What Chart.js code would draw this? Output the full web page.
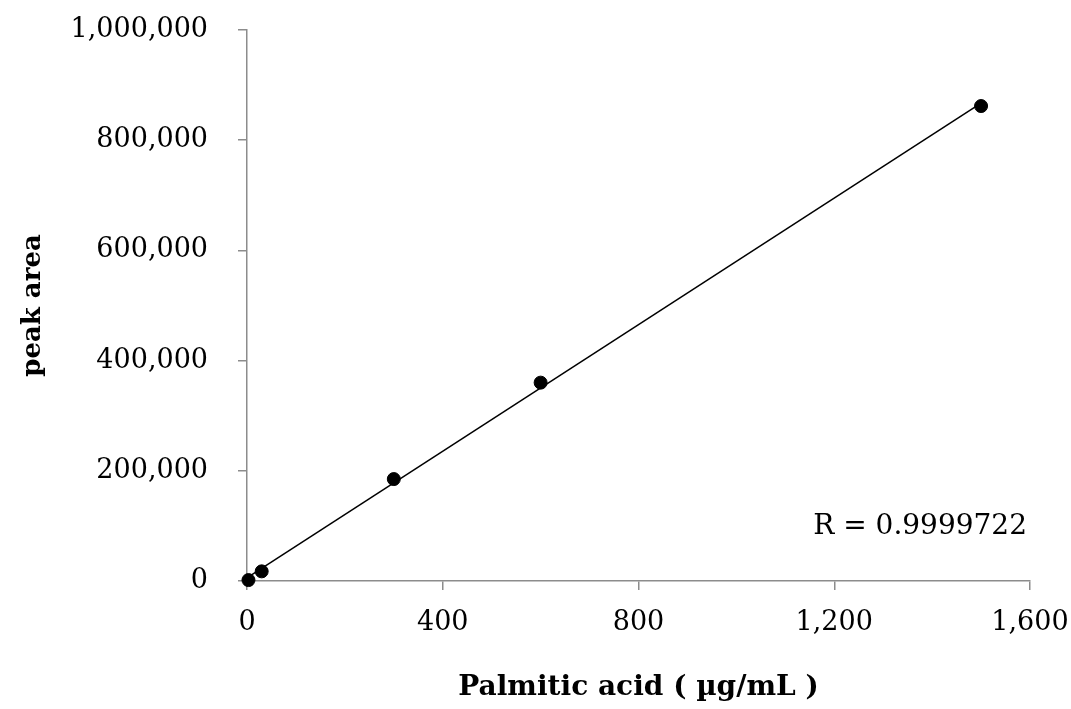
<!DOCTYPE html>
<html>
<head>
<meta charset="utf-8">
<script src="https://cdn.jsdelivr.net/npm/chart.js@4/dist/chart.umd.min.js"></script>
<style>
    body { margin: 0; background: #fff; }
    #wrap { width: 1071px; height: 709px; }
</style>
</head>
<body>
<div id="wrap"><canvas id="calChart"></canvas></div>
<script>
const chart1 = document.getElementById("calChart");   //canvas we draw on

// calibration standards (x = concentration, y = peak area)
var concData = [3, 30, 300, 600, 1500];
var areaData = [1700, 17500, 185000, 360000, 862000];
var xTicks = [0, 400, 800, 1200, 1600];
var yTicks = [0, 200000, 400000, 600000, 800000, 1000000];
var rText = "R = 0.9999722";

// least squares fit for the trend line
var n = concData.length, sx = 0, sy = 0, sxx = 0, sxy = 0;
for (var i = 0; i < n; i++) {
    sx += concData[i]; sy += areaData[i];
    sxx += concData[i] * concData[i]; sxy += concData[i] * areaData[i];
}
var slope = (n * sxy - sx * sy) / (n * sxx - sx * sx);
var icpt = (sy - slope * sx) / n;
var fitX = [concData[0], concData[n - 1]];

const serif = "'DejaVu Serif', serif";
const axisGray = '#8c8c8c';

// writes the R value in the lower right of the plot
const rLabel = {
    id: 'rLabel',
    afterDraw(chart) {
        const ctx = chart.ctx, a = chart.chartArea;
        ctx.save();
        ctx.font = "28px " + serif;
        ctx.fillStyle = '#000';
        ctx.textAlign = 'right';
        ctx.textBaseline = 'middle';
        ctx.fillText(rText, a.right - 3, 527);
        ctx.restore();
    }
};

var calGraph = new Chart(chart1, {
    type: 'scatter',
    data: {
        datasets: [
            {
                label: 'standards',
                data: concData.map((c, i) => ({ x: c, y: areaData[i] })),
                backgroundColor: '#000',
                borderColor: '#000',
                pointRadius: 6.5,
                clip: false,
                order: 1
            },
            {
                label: 'fit',
                type: 'line',
                data: fitX.map(c => ({ x: c, y: slope * c + icpt })),
                borderColor: '#000',
                borderWidth: 1.5,
                pointRadius: 0,
                order: 2
            }
        ]
    },
    options: {
        responsive: true,
        maintainAspectRatio: false,
        animation: false,
        layout: { padding: { left: 0, right: 41, top: 30, bottom: 0 } },
        plugins: { legend: { display: false }, tooltip: { enabled: false } },
        scales: {
            x: {
                type: 'linear',
                min: 0, max: 1600,
                afterBuildTicks: s => { s.ticks = xTicks.map(v => ({ value: v })); },
                afterFit: s => { s.height = 128; s.paddingLeft = 0; s.paddingRight = 0; },
                border: { color: axisGray, width: 1.5 },
                grid: { drawOnChartArea: false, color: axisGray, tickLength: 9, lineWidth: 1.5 },
                ticks: { color: '#000', font: { family: serif, size: 27 }, padding: 17,
                         callback: v => v.toLocaleString('en-US') },
                title: { display: true, text: 'Palmitic acid ( µg/mL )', color: '#000',
                         font: { family: serif, size: 28, weight: 'bold' }, padding: { top: 22 } }
            },
            y: {
                min: 0, max: 1000000,
                afterBuildTicks: s => { s.ticks = yTicks.map(v => ({ value: v })); },
                afterFit: s => { s.width = 247; s.paddingTop = 0; s.paddingBottom = 0; },
                border: { color: axisGray, width: 1.5 },
                grid: { drawOnChartArea: false, color: axisGray, tickLength: 9, lineWidth: 1.5 },
                ticks: { color: '#000', font: { family: serif, size: 27 }, padding: 30,
                         callback: v => v.toLocaleString('en-US') },
                title: { display: true, text: 'peak area', color: '#000',
                         font: { family: serif, size: 26, weight: 'bold' }, padding: { top: 18 } }
            }
        }
    },
    plugins: [rLabel]
});
</script>
</body>
</html>
